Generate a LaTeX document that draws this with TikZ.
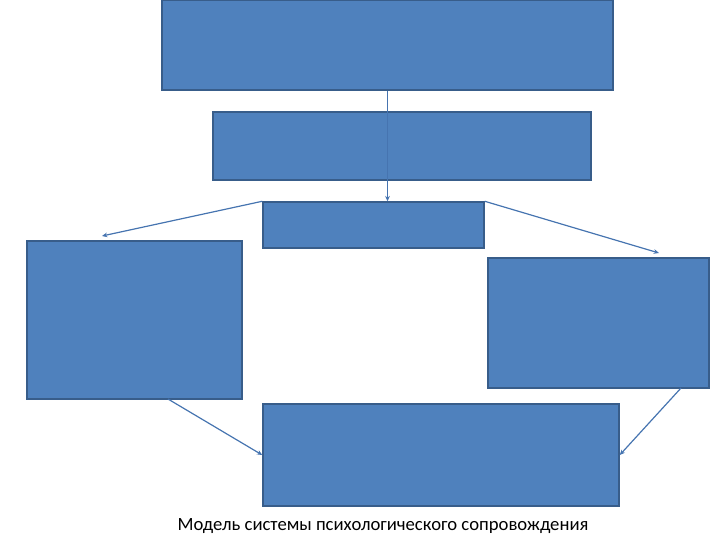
\documentclass[tikz,border=0pt]{standalone}
\usepackage{fontspec}
\setmainfont{Carlito}
\usetikzlibrary{arrows.meta}
\definecolor{boxfill}{RGB}{79,129,189}
\definecolor{boxline}{RGB}{56,93,138}
\definecolor{linkline}{RGB}{70,116,176}
\begin{document}
\begin{tikzpicture}[x=0.75pt,y=0.75pt,yscale=-1,
  blockbox/.style={draw=boxline,fill=boxfill,line width=1.1pt,inner sep=0pt},
  link/.style={draw=linkline,line width=0.9pt,-{Stealth[length=4pt,width=3.5pt]}}]
\useasboundingbox (0,0) rectangle (720,540);

% Boxes
\node [blockbox,minimum width=451*0.75pt,minimum height=90*0.75pt] (top) at (387.5,45) {};
\node [blockbox,minimum width=378*0.75pt,minimum height=68*0.75pt] (second) at (402,146) {};
\node [blockbox,minimum width=221*0.75pt,minimum height=46*0.75pt] (mid) at (373.5,225) {};
\node [blockbox,minimum width=215*0.75pt,minimum height=158*0.75pt] (lft) at (134.5,320) {};
\node [blockbox,minimum width=221*0.75pt,minimum height=130*0.75pt] (rgt) at (598.5,323) {};
\node [blockbox,minimum width=356*0.75pt,minimum height=102*0.75pt] (bot) at (441,455) {};

% Free ends
\coordinate (lftend) at (102,236);
\coordinate (rgtend) at (659,253);
\coordinate (lftout) at (168,399);
\coordinate (rgtout) at (681,388);

% Connectors
\draw [link] (top.south) -- (top.south |- mid.north);
\draw [link] (mid.north west) -- (lftend);
\draw [link] (mid.north east) -- (rgtend);
\draw [link] (lftout) -- (bot.west);
\draw [link] (rgtout) -- (bot.east);

% Caption
\node (caption) at (383,526) {\fontsize{14}{17}\selectfont Модель системы психологического сопровождения};

\end{tikzpicture}
\end{document}
